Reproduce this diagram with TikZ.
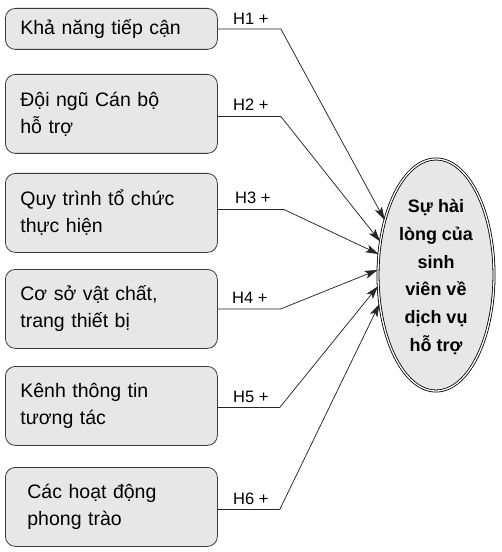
\documentclass[tikz,border=0pt]{standalone}
\usepackage{fontspec}
\setmainfont{Liberation Sans}
\usetikzlibrary{shapes.geometric,arrows.meta}
\definecolor{boxgray}{HTML}{E7E7E7}
\definecolor{edgegray}{HTML}{3A3A3A}
\begin{document}
\begin{tikzpicture}[x=1bp,y=-1bp,
  factor/.style={draw=edgegray, line width=0.8bp, fill=boxgray, rounded corners=10bp,
    minimum width=212bp, minimum height=79bp, inner xsep=15bp, inner ysep=0bp,
    text width=182bp, align=left, anchor=north west,
    font=\fontsize{19.5bp}{27bp}\selectfont},
  hlabel/.style={font=\fontsize{16.5bp}{19bp}\selectfont, anchor=base west, inner sep=0bp},
  link/.style={draw=black!85, line width=0.75bp, -{Stealth[length=13bp,width=8bp,inset=3bp]}},
  outcome/.style={ellipse, draw=black, double=white, double distance=1.3bp, line width=0.8bp,
    fill=boxgray, minimum width=116bp, minimum height=232bp, inner sep=0bp},
  outtext/.style={align=center, inner sep=0bp,
    font=\bfseries\fontsize{18bp}{27.7bp}\selectfont}]
\useasboundingbox (0,0) rectangle (502,552);

\node[factor, minimum height=41bp] (b1) at (5,8) {Khả năng tiếp cận};
\node[factor] (b2) at (5,74) {Đội ngũ Cán bộ\\hỗ trợ};
\node[factor] (b3) at (5,173) {Quy trình tổ chức\\thực hiện};
\node[factor] (b4) at (5,269) {Cơ sở vật chất,\\trang thiết bị};
\node[factor] (b5) at (5,366) {Kênh thông tin\\tương tác};
\node[factor, inner xsep=22bp, text width=168bp] (b6) at (5,467) {Các hoạt động\\phong trào};

\node[outcome] (e) at (436,275) {};
\node[outtext] (et) at (436,277) {Sự hài\\lòng của\\sinh\\viên về\\dịch vụ\\hỗ trợ};

\node[hlabel] (h1) at (233,25) {H1 +};
\node[hlabel] (h2) at (233,111) {H2 +};
\node[hlabel] (h3) at (235,204) {H3 +};
\node[hlabel] (h4) at (232,303) {H4 +};
\node[hlabel] (h5) at (233,402) {H5 +};
\node[hlabel] (h6) at (233,504) {H6 +};

\draw[link] (b1.east) -- ++(63,0) -- (e.133);
\draw[link] ([yshift=-2.5bp]b2.east) -- ++(63,0) -- (e.149);
\draw[link] ([yshift=3.5bp]b3.east) -- ++(66,0) -- (e.160);
\draw[link] (b4.east) -- ++(63,0) -- (e.175.5);
\draw[link] ([yshift=-1.5bp]b5.east) -- ++(62,0) -- (e.191);
\draw[link] ([yshift=-2.5bp]b6.east) -- ++(62,0) -- (e.207.5);
\end{tikzpicture}
\end{document}
